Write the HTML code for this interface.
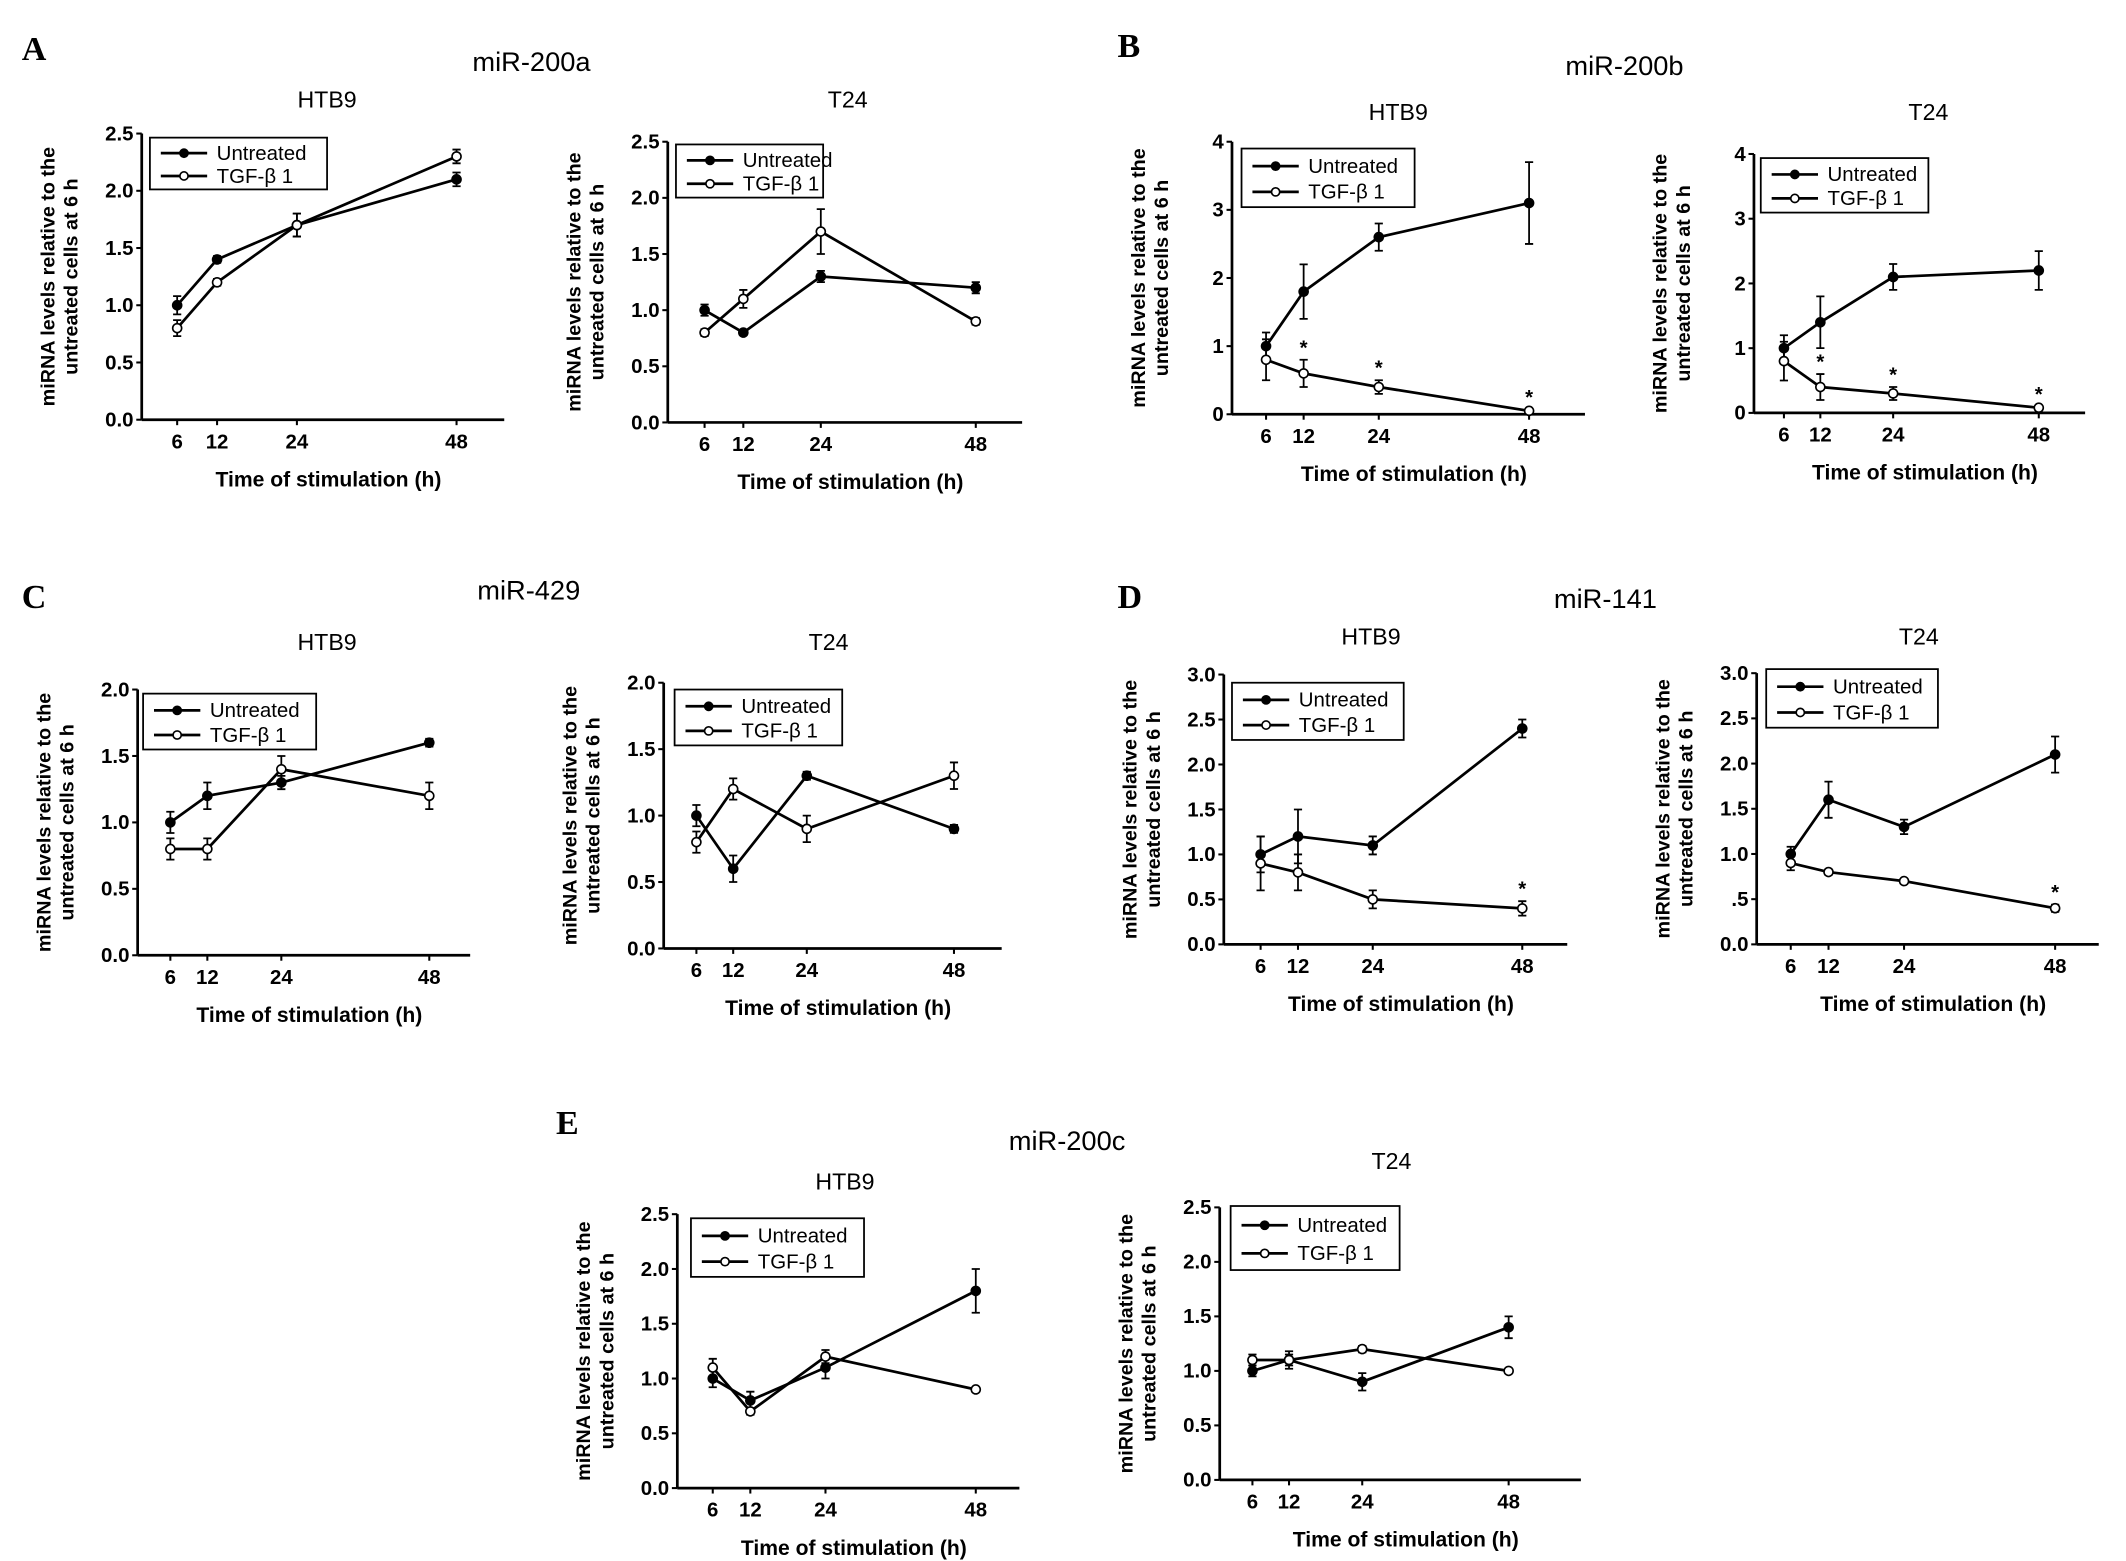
<!DOCTYPE html>
<html><head><meta charset="utf-8">
<style>
html,body{margin:0;padding:0;background:#fff;}
svg{display:block;}
text{fill:#000;}
.tk{font-family:"Liberation Sans Narrow","Liberation Sans",sans-serif;font-weight:bold;font-size:15px;}
.yl{font-family:"Liberation Sans",sans-serif;font-weight:bold;font-size:14.5px;}
.xl{font-family:"Liberation Sans Narrow","Liberation Sans",sans-serif;font-weight:bold;font-size:15.5px;}
.tt{font-family:"Liberation Sans",sans-serif;font-size:17px;}
.mt{font-family:"Liberation Sans",sans-serif;font-size:20px;}
.lt{font-family:"Liberation Serif",serif;font-weight:bold;font-size:25px;}
.lg{font-family:"Liberation Sans",sans-serif;font-size:15px;}
</style></head>
<body>
<svg id="fig" width="2126" height="1561" viewBox="0 0 1560 1145.5" preserveAspectRatio="none" xmlns="http://www.w3.org/2000/svg">
<text class="lt" x="16" y="44">A</text>
<text class="mt" x="390" y="52" text-anchor="middle">miR-200a</text>
<text class="lt" x="820" y="42">B</text>
<text class="mt" x="1192" y="55" text-anchor="middle">miR-200b</text>
<text class="lt" x="16" y="446">C</text>
<text class="mt" x="388" y="440" text-anchor="middle">miR-429</text>
<text class="lt" x="820" y="446">D</text>
<text class="mt" x="1178" y="446" text-anchor="middle">miR-141</text>
<text class="lt" x="408" y="832">E</text>
<text class="mt" x="783" y="844" text-anchor="middle">miR-200c</text>
</svg>
<script>
// Shared data
const timePoints = [6, 12, 24, 48];

// miR-200a
const aHtbUnt = [1.0, 1.4, 1.7, 2.1];
const aHtbUntErr = [0.08, 0.03, 0.1, 0.06];
const aHtbTgf = [0.8, 1.2, 1.7, 2.3];
const aHtbTgfErr = [0.07, 0.03, 0.1, 0.06];
const aT24Unt = [1.0, 0.8, 1.3, 1.2];
const aT24UntErr = [0.05, 0.02, 0.05, 0.05];
const aT24Tgf = [0.8, 1.1, 1.7, 0.9];
const aT24TgfErr = [0.03, 0.08, 0.2, 0.03];
// miR-200b
const bHtbUnt = [1.0, 1.8, 2.6, 3.1];
const bHtbUntErr = [0.2, 0.4, 0.2, 0.6];
const bHtbTgf = [0.8, 0.6, 0.4, 0.05];
const bHtbTgfErr = [0.3, 0.2, 0.1, 0.02];
const bT24Unt = [1.0, 1.4, 2.1, 2.2];
const bT24UntErr = [0.2, 0.4, 0.2, 0.3];
const bT24Tgf = [0.8, 0.4, 0.3, 0.08];
const bT24TgfErr = [0.3, 0.2, 0.1, 0.02];
// miR-429
const cHtbUnt = [1.0, 1.2, 1.3, 1.6];
const cHtbUntErr = [0.08, 0.1, 0.05, 0.03];
const cHtbTgf = [0.8, 0.8, 1.4, 1.2];
const cHtbTgfErr = [0.08, 0.08, 0.1, 0.1];
const cT24Unt = [1.0, 0.6, 1.3, 0.9];
const cT24UntErr = [0.08, 0.1, 0.03, 0.03];
const cT24Tgf = [0.8, 1.2, 0.9, 1.3];
const cT24TgfErr = [0.08, 0.08, 0.1, 0.1];
// miR-141
const dHtbUnt = [1.0, 1.2, 1.1, 2.4];
const dHtbUntErr = [0.2, 0.3, 0.1, 0.1];
const dHtbTgf = [0.9, 0.8, 0.5, 0.4];
const dHtbTgfErr = [0.3, 0.2, 0.1, 0.08];
const dT24Unt = [1.0, 1.6, 1.3, 2.1];
const dT24UntErr = [0.08, 0.2, 0.08, 0.2];
const dT24Tgf = [0.9, 0.8, 0.7, 0.4];
const dT24TgfErr = [0.08, 0.03, 0.02, 0.04];
// miR-200c
const eHtbUnt = [1.0, 0.8, 1.1, 1.8];
const eHtbUntErr = [0.08, 0.08, 0.1, 0.2];
const eHtbTgf = [1.1, 0.7, 1.2, 0.9];
const eHtbTgfErr = [0.08, 0.03, 0.06, 0.02];
const eT24Unt = [1.0, 1.1, 0.9, 1.4];
const eT24UntErr = [0.05, 0.08, 0.08, 0.1];
const eT24Tgf = [1.1, 1.1, 1.2, 1.0];
const eT24TgfErr = [0.05, 0.05, 0.03, 0.02];

// Tick labels
const ticks25 = ["0.0","0.5","1.0","1.5","2.0","2.5"];
const ticks4 = ["0","1","2","3","4"];
const ticks20 = ["0.0","0.5","1.0","1.5","2.0"];
const ticks30 = ["0.0","0.5","1.0","1.5","2.0","2.5","3.0"];
const ticks30b = ["0.0",".5","1.0","1.5","2.0","2.5","3.0"];
const starsB = [false, true, true, true];
const starsD = [false, false, false, true];
const starsNone = [false, false, false, false];

const NS = "http://www.w3.org/2000/svg";
const svg = document.getElementById("fig");
function mk(tag, attrs, parent, text) {
  const e = document.createElementNS(NS, tag);
  for (const k in attrs) e.setAttribute(k, attrs[k]);
  if (text !== undefined) e.textContent = text;
  (parent || svg).appendChild(e);
  return e;
}

function drawPanel(id, L, unt, untErr, tgf, tgfErr, tickLabels, yMax, stars) {
  const g = mk("g", {});
  
  
  const xs = t => L.x6 + (t - 6) * (L.x48 - L.x6) / 42;
  const ys = v => L.yBot - v * (L.yBot - L.yTop) / yMax;
  const st = {stroke:"#000", "stroke-width":2, fill:"none"};
  const ya = mk("line", Object.assign({x1:L.ax, y1:L.yTop, x2:L.ax, y2:L.yBot}, st), g);
  
  
  const xa = mk("line", Object.assign({x1:L.ax, y1:L.yBot, x2:L.xEnd, y2:L.yBot}, st), g);
  
  
  const step = yMax / (tickLabels.length - 1);
  tickLabels.forEach((lab, i) => {
    const y = ys(i * step);
    mk("line", {x1:L.ax - 4, y1:y, x2:L.ax, y2:y, stroke:"#000", "stroke-width":1.5}, g);
    const t = mk("text", {x:L.ax - 6, y:y + 5, "text-anchor":"end", class:"tk"}, g, lab);
    
    
  });
  timePoints.forEach(tp => {
    const x = xs(tp);
    mk("line", {x1:x, y1:L.yBot, x2:x, y2:L.yBot + 4, stroke:"#000", "stroke-width":1.5}, g);
    const t = mk("text", {x:x, y:L.yBot + 21, "text-anchor":"middle", class:"tk"}, g, String(tp));
    
    
  });
  const xl = mk("text", {x:(L.ax + L.xEnd) / 2 + 4, y:L.yBot + 49, "text-anchor":"middle", class:"xl"}, g, "Time of stimulation (h)");
  
  
  const yc = (L.yTop + L.yBot) / 2;
  const yl1 = mk("text", {x:0, y:0, "text-anchor":"middle", class:"yl", transform:`translate(${L.ax - 64},${yc}) rotate(-90)`}, g, "miRNA levels relative to the");
  
  
  const yl2 = mk("text", {x:0, y:0, "text-anchor":"middle", class:"yl", transform:`translate(${L.ax - 47},${yc}) rotate(-90)`}, g, "untreated cells at 6 h");
  
  
  const tt = mk("text", {x:L.tx, y:L.ty, "text-anchor":"middle", class:"tt"}, g, L.title);
  
  
  function series(vals, errs, filled, name) {
    const pts = vals.map((v, i) => xs(timePoints[i]) + "," + ys(v)).join(" ");
    const pl = mk("polyline", {points:pts, stroke:"#000", "stroke-width":2, fill:"none"}, g);
    
    
    vals.forEach((v, i) => {
      const x = xs(timePoints[i]);
      const y1 = ys(v + errs[i]), y2 = ys(v - errs[i]);
      mk("path", {d:`M${x},${y1}V${y2}M${x-3},${y1}H${x+3}M${x-3},${y2}H${x+3}`, stroke:"#000", "stroke-width":1.3, fill:"none"}, g);
      const c = mk("circle", {cx:x, cy:ys(v), r:3.3, fill:filled ? "#000" : "#fff", stroke:"#000", "stroke-width":1.2}, g);
      
      
    });
  }
  series(unt, untErr, true, 'untreated');
  series(tgf, tgfErr, false, 'tgf-beta1');
  stars.forEach((s, i) => {
    if (!s) return;
    const x = xs(timePoints[i]);
    const t = mk("text", {x:x, y:ys(tgf[i] + tgfErr[i]) - 4, "text-anchor":"middle", class:"lg", "font-weight":"bold"}, g, "*");
    
    
  });
  const lgG = mk("g", {}, g);
  
  
  mk("rect", {x:L.lx, y:L.ly, width:L.lw, height:L.lh, fill:"#fff", stroke:"#000", "stroke-width":1.3}, lgG);
  const r1 = L.ly + L.lh * 0.3, r2 = L.ly + L.lh * 0.74;
  [[r1, true, "Untreated"], [r2, false, "TGF-β 1"]].forEach(([yy, f, lab]) => {
    mk("line", {x1:L.lx + 8, y1:yy, x2:L.lx + 42, y2:yy, stroke:"#000", "stroke-width":2}, lgG);
    mk("circle", {cx:L.lx + 25, cy:yy, r:3, fill:f ? "#000" : "#fff", stroke:"#000", "stroke-width":1.2}, lgG);
    const t = mk("text", {x:L.lx + 49, y:yy + 5, class:"lg"}, lgG, lab);
    
    
  });
}

drawPanel('a-htb9', {ax:104,yTop:98,yBot:308,x6:130,x48:335,xEnd:370,tx:240,ty:79,title:"HTB9",lx:110,ly:101,lw:130,lh:38}, aHtbUnt,aHtbUntErr,aHtbTgf,aHtbTgfErr,ticks25,2.5,starsNone);
drawPanel('a-t24', {ax:490,yTop:104,yBot:310,x6:517,x48:716,xEnd:750,tx:622,ty:79,title:"T24",lx:496,ly:106,lw:108,lh:39}, aT24Unt,aT24UntErr,aT24Tgf,aT24TgfErr,ticks25,2.5,starsNone);
drawPanel('b-htb9', {ax:904,yTop:104,yBot:304,x6:929,x48:1122,xEnd:1163,tx:1026,ty:88,title:"HTB9",lx:911,ly:109,lw:127,lh:43}, bHtbUnt,bHtbUntErr,bHtbTgf,bHtbTgfErr,ticks4,4,starsB);
drawPanel('b-t24', {ax:1287,yTop:113,yBot:303,x6:1309,x48:1496,xEnd:1530,tx:1415,ty:88,title:"T24",lx:1292,ly:116,lw:123,lh:40}, bT24Unt,bT24UntErr,bT24Tgf,bT24TgfErr,ticks4,4,starsB);
drawPanel('c-htb9', {ax:101,yTop:506,yBot:701,x6:125,x48:315,xEnd:345,tx:240,ty:477,title:"HTB9",lx:105,ly:509,lw:127,lh:41}, cHtbUnt,cHtbUntErr,cHtbTgf,cHtbTgfErr,ticks20,2.0,starsNone);
drawPanel('c-t24', {ax:487,yTop:501,yBot:696,x6:511,x48:700,xEnd:735,tx:608,ty:477,title:"T24",lx:495,ly:506,lw:123,lh:41}, cT24Unt,cT24UntErr,cT24Tgf,cT24TgfErr,ticks20,2.0,starsNone);
drawPanel('d-htb9', {ax:898,yTop:495,yBot:693,x6:925,x48:1117,xEnd:1150,tx:1006,ty:473,title:"HTB9",lx:904,ly:501,lw:126,lh:42}, dHtbUnt,dHtbUntErr,dHtbTgf,dHtbTgfErr,ticks30,3.0,starsD);
drawPanel('d-t24', {ax:1289,yTop:494,yBot:693,x6:1314,x48:1508,xEnd:1540,tx:1408,ty:473,title:"T24",lx:1296,ly:491,lw:126,lh:43}, dT24Unt,dT24UntErr,dT24Tgf,dT24TgfErr,ticks30b,3.0,starsD);
drawPanel('e-htb9', {ax:497,yTop:891,yBot:1092,x6:523,x48:716,xEnd:748,tx:620,ty:873,title:"HTB9",lx:507,ly:894,lw:127,lh:43}, eHtbUnt,eHtbUntErr,eHtbTgf,eHtbTgfErr,ticks25,2.5,starsNone);
drawPanel('e-t24', {ax:895,yTop:886,yBot:1086,x6:919,x48:1107,xEnd:1160,tx:1021,ty:858,title:"T24",lx:903,ly:885,lw:124,lh:47}, eT24Unt,eT24UntErr,eT24Tgf,eT24TgfErr,ticks25,2.5,starsNone);
</script>
</body></html>
